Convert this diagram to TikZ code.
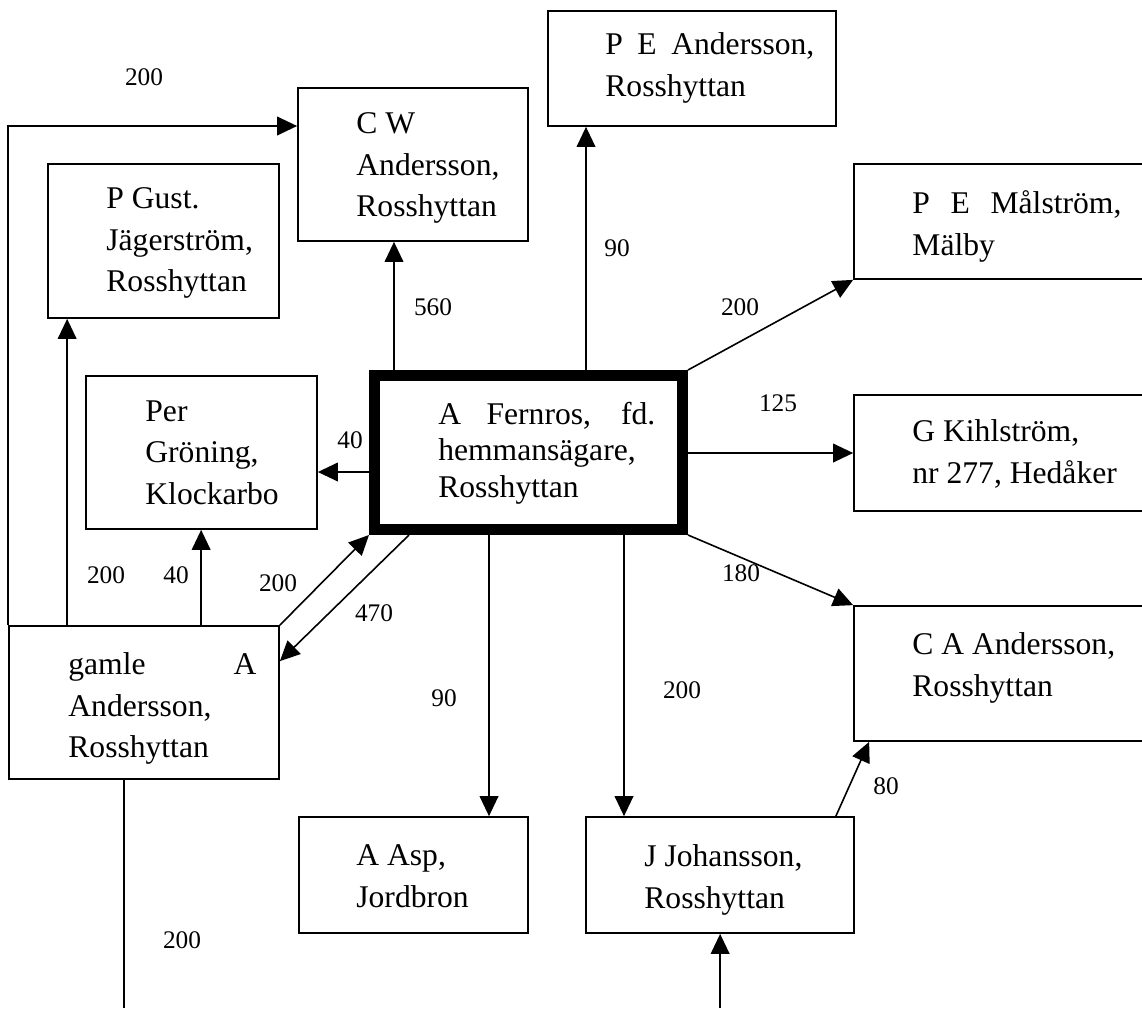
\documentclass[tikz,border=0pt]{standalone}
\usepackage{fontspec}
\setmainfont{Liberation Serif}
\usetikzlibrary{arrows.meta,calc}

% body text of the boxes, number labels on the connectors
\newcommand\boxtext{\fontsize{23.7pt}{31.3pt}\selectfont}
\newcommand\hubtext{\fontsize{23.7pt}{27.2pt}\selectfont}
\newcommand\numtext{\fontsize{19pt}{22pt}\selectfont}

\begin{document}
\begin{tikzpicture}[x=0.75pt,y=-0.75pt,
  box/.style 2 args={draw, line width=1.3pt, rectangle, inner sep=0pt,
    minimum width=#1*0.75pt, minimum height=#2*0.75pt},
  hub/.style={draw, line width=8.25pt, rectangle, inner sep=0pt,
    minimum width=308*0.75pt, minimum height=154*0.75pt},
  txt/.style={anchor=north west, align=left, inner sep=0pt, font=\boxtext},
  num/.style={inner sep=0pt, font=\numtext},
  arr/.style={line width=1.2pt, -{Triangle[length=15pt,width=14pt]}},
  plain/.style={line width=1.2pt}]

\useasboundingbox (0,0) rectangle (1142,1008);
\clip (0,0) rectangle (1142,1008);
\fill[white] (0,0) rectangle (1142,1008);
\coordinate (pagebottom) at (0,1008);
\coordinate (toprow) at (0,126);

% boxes
\node[box={288}{115}] (pea)      at (692,68.5)   {};
\node[box={230}{153}] (cw)       at (413,164.5)  {};
\node[box={231}{154}] (pgust)    at (163.5,241)  {};
\node[box={296}{115}] (malstrom) at (1002,221.5) {};
\node[box={231}{153}] (per)      at (201.5,452.5){};
\node[hub]            (main)     at (528.5,452.5){};
\node[box={296}{116}] (kihl)     at (1002,453)   {};
\node[box={270}{153}] (gamle)    at (144,702.5)  {};
\node[box={296}{135}] (ca)       at (1002,673.5) {};
\node[box={229}{116}] (asp)      at (413.5,875)  {};
\node[box={268}{116}] (jj)       at (720,875)    {};

% box texts
\node[txt] (pea-t) at ($(pea.north west)+(58,22)$)
  {\makebox[156.75pt][s]{P E Andersson,}\\Rosshyttan};
\node[txt] (cw-t) at ($(cw.north west)+(59,25)$)
  {C W\\Andersson,\\Rosshyttan};
\node[txt] (pgust-t) at ($(pgust.north west)+(59,24)$)
  {P Gust.\\Jägerström,\\Rosshyttan};
\node[txt] (malstrom-t) at ($(malstrom.north west)+(59,27)$)
  {\makebox[156.75pt][s]{P E Målström,}\\Mälby};
\node[txt] (per-t) at ($(per.north west)+(60,25)$)
  {Per\\Gröning,\\Klockarbo};
\node[txt, font=\hubtext] (main-t) at ($(main.north west)+(69,32)$)
  {\makebox[162.75pt][s]{A Fernros, fd.}\\hemmansägare,\\Rosshyttan};
\node[txt] (kihl-t) at ($(kihl.north west)+(59,25)$)
  {G Kihlström,\\nr 277, Hedåker};
\node[txt] (gamle-t) at ($(gamle.north west)+(60,27)$)
  {\makebox[141pt][s]{gamle A}\\Andersson,\\Rosshyttan};
\node[txt] (ca-t) at ($(ca.north west)+(59,27)$)
  {C A Andersson,\\Rosshyttan};
\node[txt] (asp-t) at ($(asp.north west)+(58,28)$)
  {A Asp,\\Jordbron};
\node[txt] (jj-t) at ($(jj.north west)+(59,28)$)
  {J Johansson,\\Rosshyttan};

% connectors from gamle A Andersson
\draw[arr] (gamle.north west) |- (cw.west |- toprow);
\draw[arr] ($(gamle.north west)+(59,0)$) coordinate (g1) -- (g1 |- pgust.south);
\draw[arr] ($(gamle.north west)+(193,0)$) coordinate (g2) -- (g2 |- per.south);
\draw[arr] (gamle.north east) -- (main.south west);
\draw[plain] ($(gamle.south west)+(116,0)$) coordinate (g3) -- (g3 |- pagebottom);

% connectors from A Fernros
\draw[arr] ($(main.south west)+(40,0)$) -- ($(gamle.north east)+(0,36)$);
\draw[arr] ($(main.north west)+(0,102)$) coordinate (m1) -- (m1 -| per.east);
\draw[arr] ($(main.north west)+(25,0)$) coordinate (m2) -- (m2 |- cw.south);
\draw[arr] ($(main.north west)+(217,0)$) coordinate (m3) -- (m3 |- pea.south);
\draw[arr] (main.north east) -- (malstrom.south west);
\draw[arr] ($(main.north east)+(0,83)$) coordinate (m4) -- (m4 -| kihl.west);
\draw[arr] (main.south east) -- (ca.north west);
\draw[arr] ($(main.south west)+(120,0)$) coordinate (m5) -- (m5 |- asp.north);
\draw[arr] ($(main.south west)+(255,0)$) coordinate (m6) -- (m6 |- jj.north);

% remaining connectors
\draw[arr] ($(jj.north east)+(-19,0)$) -- ($(ca.south west)+(16,0)$);
\path ($(jj.south west)+(135,0)$) coordinate (j1);
\draw[arr] (j1 |- pagebottom) -- (j1);

% amounts
\node[num] (n1)  at (144,77)  {200};
\node[num] (n2)  at (433,307) {560};
\node[num] (n3)  at (617,248) {90};
\node[num] (n4)  at (740,307) {200};
\node[num] (n5)  at (778,403) {125};
\node[num] (n6)  at (350,440) {40};
\node[num] (n7)  at (106,575) {200};
\node[num] (n8)  at (176,575) {40};
\node[num] (n9)  at (278,583) {200};
\node[num] (n10) at (374,613) {470};
\node[num] (n11) at (741,573) {180};
\node[num] (n12) at (444,698) {90};
\node[num] (n13) at (682,690) {200};
\node[num] (n14) at (886,786) {80};
\node[num] (n15) at (182,940) {200};
\end{tikzpicture}
\end{document}
